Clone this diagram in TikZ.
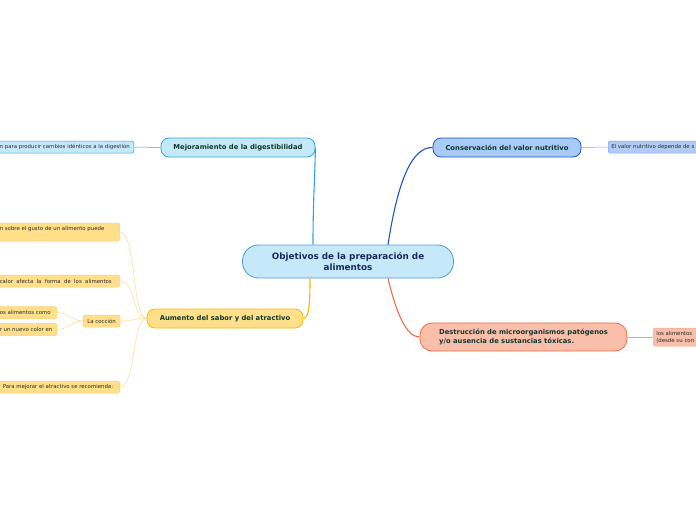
\documentclass[tikz,border=0pt]{standalone}
\usepackage{fontspec}
\newfontfamily\mapfont{DejaVu Sans}
\usetikzlibrary{positioning}

\definecolor{centfill}{HTML}{C6E9FA}
\definecolor{centdraw}{HTML}{4A9BD8}
\definecolor{centtext}{HTML}{1B2A58}
\definecolor{toptext}{HTML}{12382F}
\definecolor{leaftext}{HTML}{2A2A2A}
\definecolor{skyfill}{HTML}{C6E9FA}
\definecolor{skydraw}{HTML}{2AA7E0}
\definecolor{navyfill}{HTML}{A9CBF7}
\definecolor{navydraw}{HTML}{1A55C0}
\definecolor{lilafill}{HTML}{B3CCF5}
\definecolor{liladraw}{HTML}{7FA2E8}
\definecolor{redfill}{HTML}{F9BFAA}
\definecolor{reddraw}{HTML}{F26A45}
\definecolor{redleaf}{HTML}{F5A585}
\definecolor{yelfill}{HTML}{FFDF8A}
\definecolor{yeldraw}{HTML}{F8B500}
\definecolor{yelleaf}{HTML}{FFD070}
\definecolor{yelline}{HTML}{FFD98C}

\begin{document}
\begin{tikzpicture}[
    x=1pt, y=-1pt,
    topic/.style={draw, line width=0.8pt, rounded corners=8pt,
                  minimum height=19pt, inner sep=0pt, text=toptext,
                  font=\mapfont\fontsize{6.8}{8.4}\selectfont\bfseries},
    leaf/.style={draw, line width=0.5pt, rounded corners=2pt,
                 inner xsep=3pt, inner ysep=0pt, minimum height=12pt,
                 text=leaftext, font=\mapfont\fontsize{5.4}{6.6}\selectfont},
    link/.style={line width=1.1pt},
    twig/.style={line width=0.5pt}
  ]
  \useasboundingbox (0,0) rectangle (696,520);
  \clip (0,0) rectangle (696,520);

  % central topic
  \node[draw=centdraw, fill=centfill, line width=0.8pt, rounded corners=16pt,
        minimum width=211pt, minimum height=33pt, inner sep=0pt, align=center,
        text=centtext, font=\mapfont\fontsize{8.8}{11}\selectfont\bfseries]
        (cent) at (348,261.5) {Objetivos de la preparación de\\alimentos};

  % main topics
  \node[topic, draw=skydraw, fill=skyfill, minimum width=154pt]
        (mejora) at (238,147.5) {Mejoramiento de la digestibilidad};
  \node[topic, draw=navydraw, fill=navyfill, minimum width=148pt]
        (conserva) at (507,147.5) {Conservación del valor nutritivo};
  \node[topic, draw=yeldraw, fill=yelfill, minimum width=156pt]
        (aumento) at (225,318.5) {Aumento del sabor y del atractivo};
  \node[topic, draw=reddraw, fill=redfill, minimum width=207pt,
        minimum height=28pt, rounded corners=12pt, align=left]
        (destru) at (523.5,337) {Destrucción de microorganismos patógenos\\y/o ausencia de sustancias tóxicas.};

  % leaves
  \node[leaf, draw=skydraw, fill=skyfill, anchor=east]
        (digest) at (134,147) {\makebox[131pt][l]{n para producir cambios idénticos a la digestión}};
  \node[leaf, draw=liladraw, fill=lilafill, anchor=west]
        (nutri) at (608,147) {\makebox[100pt][l]{El valor nutritivo depende de s}};
  \node[leaf, draw=redleaf, fill=redfill, anchor=west, minimum height=18pt,
        text width=80pt, align=left]
        (micro) at (653,337) {los alimentos\\(desde su con};
  \node[leaf, draw=yelleaf, fill=yelfill, anchor=east, minimum height=18pt,
        align=left]
        (gusto) at (120,232) {\makebox[117pt][l]{n sobre el gusto de un alimento puede}\\\mbox{}};
  \node[leaf, draw=yelleaf, fill=yelfill, anchor=east]
        (forma) at (120,281) {\makebox[117pt][l]{\makebox[112pt][s]{calor afecta la forma de los alimentos}}};
  \node[leaf, draw=yelleaf, fill=yelfill, minimum width=37pt]
        (coccion) at (101.5,321) {La cocción};
  \node[leaf, draw=yelleaf, fill=yelfill, anchor=east]
        (como) at (57,312.5) {\makebox[54pt][l]{os alimentos como}};
  \node[leaf, draw=yelleaf, fill=yelfill, anchor=east]
        (color) at (57,329.5) {\makebox[54pt][l]{r un nuevo color en}};
  \node[leaf, draw=yelleaf, fill=yelfill, anchor=east]
        (recom) at (120,387) {\makebox[114pt][l]{Para mejorar el atractivo se recomienda:}};

  % connectors from the centre
  \draw[link, skydraw] (cent.north -| 313,0) .. controls (313,200) and (315,175) .. (mejora.east);
  \draw[link, navydraw] (cent.north -| 388,0) .. controls (398,180) and (412,147) .. (conserva.west);
  \draw[link, reddraw] (cent.south -| 388,0) .. controls (396,312) and (406,337) .. (destru.west);
  \draw[link, yeldraw] (cent.south -| 310,0) .. controls (310,305) and (309,318) .. (aumento.east);

  % connectors to leaves
  \draw[twig, skydraw] (mejora.west) -- (digest.east);
  \draw[twig, liladraw] (conserva.east) -- (nutri.west);
  \draw[twig, redleaf] (destru.east) -- (micro.west);
  \foreach \leafname in {gusto, forma, coccion, recom}
    \draw[twig, yelline] (aumento.west) .. controls (132,318) and (136,0 |- \leafname.east) .. (\leafname.east);
  \foreach \leafname in {como, color}
    \draw[twig, yelline] (coccion.west) .. controls (72,321) and (68,0 |- \leafname.east) .. (\leafname.east);
\end{tikzpicture}
\end{document}
